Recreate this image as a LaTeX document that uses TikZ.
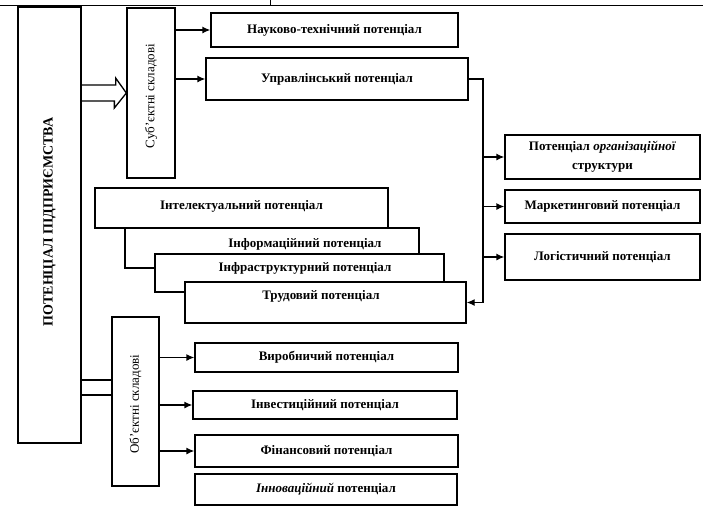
\documentclass[tikz,border=0pt]{standalone}
\usepackage{fontspec}
\setmainfont{Liberation Serif}
\usetikzlibrary{arrows.meta}

\tikzset{
  pbox/.style={draw, line width=1.3pt, fill=white, inner sep=0pt,
    font=\fontsize{13}{15}\selectfont\bfseries},
  plbl/.style={inner sep=0pt, font=\fontsize{13}{15}\selectfont\bfseries},
  parr/.style={line width=1.3pt, -{Latex[length=8pt,width=7pt]}},
  pline/.style={line width=1.3pt}
}

\begin{document}
\begin{tikzpicture}[x=1pt,y=-1pt]
  \useasboundingbox (0,0) rectangle (703,509);
  % edge of the page above
  \draw[line width=0.8pt] (0,5) -- (703,5);
  \draw[line width=0.8pt] (270,0) -- (270,5);

  % main block and the two groups
  \node[pbox, minimum width=63pt, minimum height=436pt] (main) at (49.5,225) {};
  \node[rotate=90, font=\fontsize{14}{16}\selectfont\bfseries] (maintxt) at (49.5,222) {ПОТЕНЦІАЛ ПІДПРИЄМСТВА};
  \node[pbox, minimum width=48pt, minimum height=170pt] (subj) at (151,93) {};
  \node[rotate=90, font=\fontsize{13}{15}\selectfont] (subjtxt) at (151,96) {Суб'єктні складові};
  \node[pbox, minimum width=47pt, minimum height=169pt] (obj) at (135.5,401.5) {};
  \node[rotate=90, font=\fontsize{13}{15}\selectfont] (objtxt) at (135.5,404) {Об'єктні складові};

  % hollow arrow and strip
  \draw[pline] (main.east |- subj.west) ++(0,-8) -- ++(34,0) -- ++(0,-7) -- (subj.west)
    -- ++(-12,15) -- ++(0,-7) -- ++(-34,0);
  \draw[pline] (main.east |- 0,380) -- (obj.west |- 0,380);
  \draw[pline] (main.east |- 0,395) -- (obj.west |- 0,395);

  % subject components
  \node[pbox, minimum width=247pt, minimum height=34pt] (nauk) at (334.5,30) {Науково-технічний потенціал};
  \node[pbox, minimum width=262pt, minimum height=42pt] (upr) at (337,79) {Управлінський потенціал};
  \draw[parr] (subj.east |- nauk.west) -- (nauk.west);
  \draw[parr] (subj.east |- upr.west) -- (upr.west);

  % right column
  \node[pbox, minimum width=195pt, minimum height=44pt, align=center] (org) at (602.5,157)
    {Потенціал \textit{організаційної}\\[4pt]структури};
  \node[pbox, minimum width=195pt, minimum height=33pt] (mark) at (602.5,206.5) {Маркетинговий потенціал};
  \node[pbox, minimum width=195pt, minimum height=46pt] (logi) at (602.5,257) {Логістичний потенціал};

  % cascade of cards
  \node[pbox, minimum width=293pt, minimum height=40pt] (intel) at (241.5,208) {};
  \node[plbl] (inteltxt) at (241.5,206) {Інтелектуальний потенціал};
  \node[pbox, minimum width=294pt, minimum height=40pt] (inform) at (272,248) {};
  \node[plbl] (informtxt) at (305,244) {Інформаційний потенціал};
  \node[pbox, minimum width=289pt, minimum height=38pt] (infra) at (299.5,273) {};
  \node[plbl] (infratxt) at (305,268) {Інфраструктурний потенціал};
  \node[pbox, minimum width=281pt, minimum height=41pt] (trud) at (325.5,302.5) {};
  \node[plbl] (trudtxt) at (321,296) {Трудовий потенціал};

  % trunk from the management block
  \coordinate (trunk) at (483,0);
  \draw[pline] (upr.east) -- (upr.east -| trunk) -- (trunk |- trud.east);
  \draw[parr] (trunk |- trud.east) -- (trud.east);
  \draw[parr] (trunk |- org.west) -- (org.west);
  \draw[parr] (trunk |- mark.west) -- (mark.west);
  \draw[parr] (trunk |- logi.west) -- (logi.west);

  % object components
  \node[pbox, minimum width=263pt, minimum height=29pt] (vyr) at (326.5,357.5) {Виробничий потенціал};
  \node[pbox, minimum width=264pt, minimum height=28pt] (inv) at (325,405) {Інвестиційний потенціал};
  \node[pbox, minimum width=263pt, minimum height=32pt] (fin) at (326.5,451) {Фінансовий потенціал};
  \node[pbox, minimum width=262pt, minimum height=31pt] (inn) at (326,489.5) {\textit{Інноваційний} потенціал};
  \draw[parr] (obj.east |- vyr.west) -- (vyr.west);
  \draw[parr] (obj.east |- inv.west) -- (inv.west);
  \draw[parr] (obj.east |- fin.west) -- (fin.west);
\end{tikzpicture}
\end{document}
